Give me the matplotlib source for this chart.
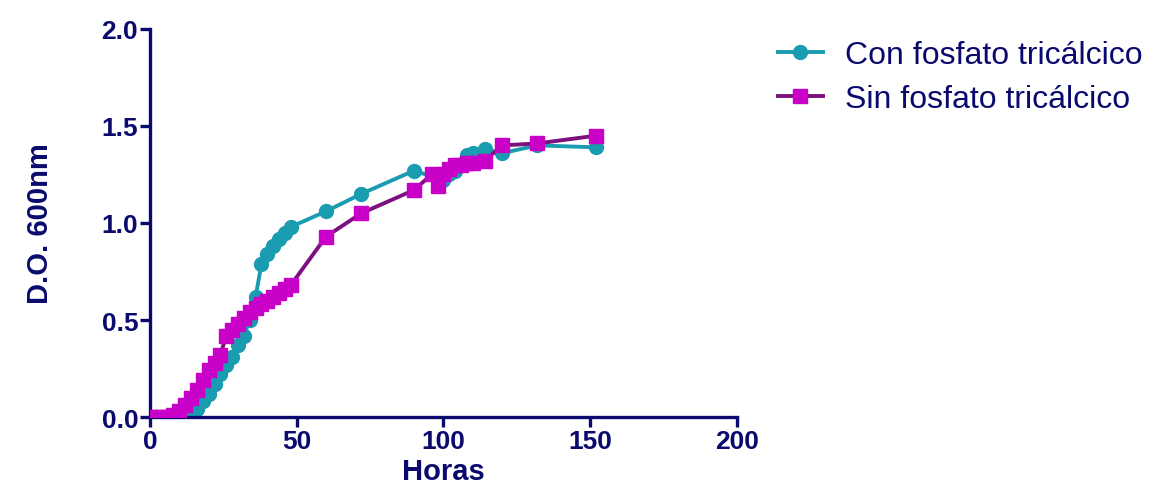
import matplotlib.pyplot as plt

plt.rcParams['font.family'] = ['Liberation Sans', 'DejaVu Sans']

# Con fosfato tricálcico
horas_con = [0, 2, 4, 6, 8, 10, 12, 14, 16, 18, 20, 22, 24, 26, 28, 30, 32, 34, 36,
             38, 40, 42, 44, 46, 48, 60, 72, 90, 100, 102, 104, 106, 108, 110, 112,
             114, 120, 132, 152]
do_con = [0.0, 0.0, 0.0, 0.0, 0.0, 0.0, 0.0, 0.01, 0.04, 0.08, 0.12, 0.17, 0.22, 0.27,
          0.31, 0.37, 0.42, 0.50, 0.62, 0.79, 0.84, 0.88, 0.92, 0.95, 0.98, 1.06, 1.15,
          1.27, 1.22, 1.25, 1.27, 1.30, 1.35, 1.36, 1.35, 1.38, 1.36, 1.40, 1.39]

# Sin fosfato tricálcico
horas_sin = [0, 2, 4, 6, 8, 10, 12, 14, 16, 18, 20, 22, 24, 26, 28, 30, 32, 34, 36,
             38, 40, 42, 44, 46, 48, 60, 72, 90, 96, 98, 100, 102, 104, 106, 108, 110,
             114, 120, 132, 152]
do_sin = [0.0, 0.0, 0.0, 0.0, 0.01, 0.03, 0.06, 0.10, 0.14, 0.19, 0.24, 0.28, 0.32,
          0.42, 0.45, 0.48, 0.51, 0.54, 0.56, 0.58, 0.60, 0.62, 0.64, 0.66, 0.68, 0.93,
          1.05, 1.17, 1.25, 1.19, 1.25, 1.28, 1.30, 1.30, 1.31, 1.31, 1.32, 1.40, 1.41,
          1.45]

navy = '#0a0a6e'

fig = plt.figure(figsize=(11.5, 5.02), dpi=100)
ax = fig.add_axes([0.1304, 0.1673, 0.5104, 0.773])

ax.plot(horas_con, do_con, '-o', color='#1a9cb0', mfc='#1a9cb0', mec='#1a9cb0',
        lw=2.8, ms=10, label='Con fosfato tricálcico', zorder=2)
ax.plot(horas_sin, do_sin, '-s', color='#7d107d', mfc='#c800c8', mec='#c800c8',
        lw=2.8, ms=10.5, label='Sin fosfato tricálcico', zorder=3)

ax.set_xlim(0, 200)
ax.set_ylim(0, 2.0)
ax.set_xticks([0, 50, 100, 150, 200])
ax.set_yticks([0.0, 0.5, 1.0, 1.5, 2.0])
ax.set_yticklabels(['0.0', '0.5', '1.0', '1.5', '2.0'])

for s in ['top', 'right']:
    ax.spines[s].set_visible(False)
for s in ['left', 'bottom']:
    ax.spines[s].set_color(navy)
    ax.spines[s].set_linewidth(2.4)

ax.tick_params(colors=navy, width=2.4, length=7.5, labelsize=19, pad=1)
for lab in ax.get_xticklabels() + ax.get_yticklabels():
    lab.set_fontweight('bold')

ax.set_xlabel('Horas', fontsize=21, fontweight='bold', color=navy, labelpad=3)
ax.set_ylabel('D.O. 600nm', fontsize=21, fontweight='bold', color=navy, labelpad=34)

leg = ax.legend(loc='upper left', bbox_to_anchor=(1.07, 0.972), frameon=False,
                borderaxespad=0, borderpad=0,
                fontsize=23, handlelength=1.4, labelspacing=0.45, handletextpad=0.7)
for t in leg.get_texts():
    t.set_color(navy)

fig.savefig('out.png', dpi=100)
